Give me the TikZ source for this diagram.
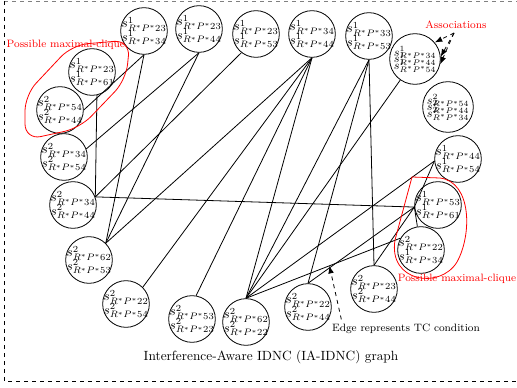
\documentclass[tikz,border=0pt]{standalone}
\usetikzlibrary{arrows.meta}
\newcommand{\sv}[2]{$s^{#1}_{R^{*}P^{*}#2}$}
\begin{document}
\begin{tikzpicture}[x=0.75pt, y=-0.75pt,
	sess/.style={circle, draw=black, semithick, inner sep=-4pt, minimum size=35pt, align=center},
	sessbig/.style={sess, minimum size=38pt, font=\small},
	clique/.style={red, semithick},
	redlabel/.style={text=red, font=\footnotesize}]
	\useasboundingbox (0,0) rectangle (517,388);
	\draw [dashed, gray] (4,1) -- (517,1);
	\draw [dashed] (4,1) -- (4,381) -- (517,381);
	% top row
	\node (t1) [sess] at (144,31) {\sv{1}{23}\\[-2pt]\sv{1}{34}};
	\node (t2) [sess] at (199,29) {\sv{1}{23}\\[-2pt]\sv{1}{44}};
	\node (t3) [sess] at (256,34) {\sv{1}{23}\\[-2pt]\sv{1}{53}};
	\node (t4) [sess] at (312,34) {\sv{1}{34}\\[-2pt]\sv{1}{44}};
	\node (t5) [sess] at (369,36) {\sv{1}{33}\\[-2pt]\sv{1}{53}};
	% right column
	\node (r1) [sessbig] at (415,59) {\sv{1}{34}\\[-6pt]\sv{1}{44}\\[-6pt]\sv{1}{54}};
	\node (r2) [sessbig] at (448,107) {\sv{2}{54}\\[-6pt]\sv{2}{44}\\[-6pt]\sv{2}{34}};
	\node (r3) [sess] at (458,159) {\sv{1}{44}\\[-2pt]\sv{1}{54}};
	\node (r4) [sess] at (438,205) {\sv{1}{53}\\[-2pt]\sv{1}{61}};
	\node (r5) [sess] at (421,250) {\sv{2}{22}\\[-2pt]\sv{1}{34}};
	% bottom row
	\node (b1) [sess] at (374,289) {\sv{2}{23}\\[-2pt]\sv{2}{44}};
	\node (b2) [sess] at (308,307) {\sv{2}{22}\\[-2pt]\sv{2}{44}};
	\node (b3) [sess] at (246,322) {\sv{2}{62}\\[-2pt]\sv{2}{22}};
	\node (b4) [sess] at (192,319) {\sv{2}{53}\\[-2pt]\sv{2}{23}};
	\node (b5) [sess] at (126,304) {\sv{2}{22}\\[-2pt]\sv{2}{54}};
	% left column
	\node (l1) [sess] at (89,260) {\sv{2}{62}\\[-2pt]\sv{2}{53}};
	\node (l2) [sess] at (73,205) {\sv{2}{34}\\[-2pt]\sv{2}{44}};
	\node (l3) [sess] at (64,157) {\sv{2}{34}\\[-2pt]\sv{2}{54}};
	\node (l4) [sess] at (92,72) {\sv{1}{23}\\[-2pt]\sv{1}{61}};
	\node (l5) [sess] at (60,110) {\sv{2}{54}\\[-2pt]\sv{2}{44}};
	% edges
	\draw [semithick] (t1.south) -- (l5.east);
	\draw [semithick] (t1.south) -- (l1.45);
	\draw [semithick] (t2.south) -- (l3.20);
	\draw [semithick] (t2.south) -- (l1.45);
	\draw [semithick] (t3.232) -- (l2.20);
	\draw [semithick] (l4.-78) -- (l2.20);
	\draw [semithick] (l2.20) -- (r4.185);
	\draw [semithick] (t4.south) -- (l1.45);
	\draw [semithick] (t4.south) -- (b5.45);
	\draw [semithick] (t4.south) -- (b4.80);
	\draw [semithick] (t4.south) -- (b3.north);
	\draw [semithick] (t5.south) -- (b3.north);
	\draw [semithick] (t5.south) -- (b2.north);
	\draw [semithick] (t5.south) -- (b1.north);
	\draw [semithick] (r1.235) -- (b3.north);
	\draw [semithick] (r3.185) -- (r4.185);
	\draw [semithick] (r3.185) -- (b3.north);
	\draw [semithick] (r4.185) -- (r5);
	\draw [semithick] (r4.185) -- (b2.north);
	\draw [semithick] (r4.185) -- (b1.north);
	\draw [semithick] (b3.north) -- coordinate [pos=0.54] (tc) (r5.150);
	% cliques
	\draw [clique, rounded corners=12pt] (25,140) -- (25,95) -- (72,45) -- (130,40) -- (126,80) -- (80,128) -- cycle;
	\node (clq1) [redlabel, anchor=west] at (2,45) {Possible maximal-clique};
	\draw [clique] (412,177) -- (440,178) .. controls (472,182) and (472,235) .. (457,262) .. controls (440,290) and (388,282) .. (395,240) -- cycle;
	\node (clq2) [redlabel] at (457,279) {Possible maximal-clique};
	% associations
	\node (assoc) [redlabel] at (456,25) {Associations};
	\coordinate (as) at (454,33);
	\draw [semithick, dashed, -{Latex}] (as) -- (r1.40);
	\draw [semithick, dashed, -{Latex}] (as) -- (r1.5);
	\draw [semithick, dashed, -{Latex}] (as) -- (r1.-12);
	% labels
	\node (tclabel) [font=\footnotesize] at (406,329) {Edge represents TC condition};
	\draw [semithick, dashed, -{Latex}] (tclabel.north west) ++(14,0) -- (tc);
	\node (title) at (271,357) {Interference-Aware IDNC (IA-IDNC) graph};
\end{tikzpicture}
\end{document}
